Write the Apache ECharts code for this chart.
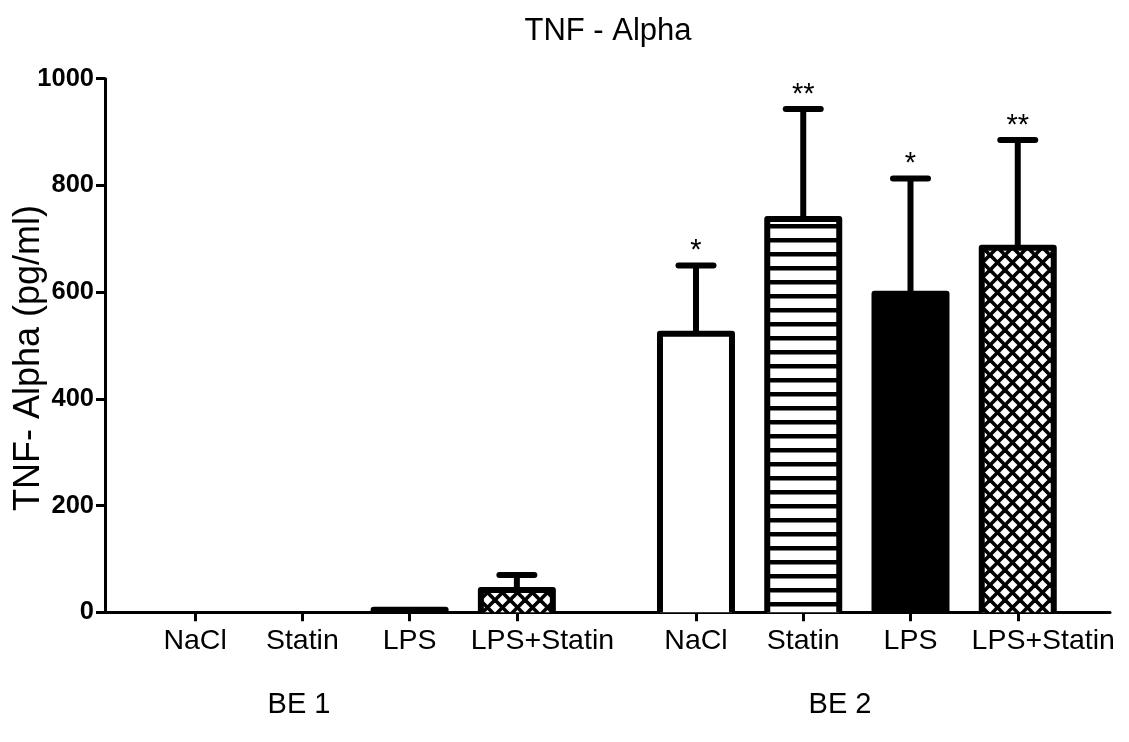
<!DOCTYPE html>
<html><head><meta charset="utf-8">
<script src="https://cdn.jsdelivr.net/npm/echarts@6/dist/echarts.min.js"></script>
<style>html,body{margin:0;padding:0;background:#fff}#c{width:1129px;height:742px}</style>
</head><body><div id="c"></div>
<script>
// ---------- data ----------
const chartTitle = 'TNF - Alpha';
const yTitle = 'TNF- Alpha (pg/ml)';
const categories = ['NaCl', 'Statin', 'LPS', 'LPS+Statin'];
const groupNames = ['BE 1', 'BE 2'];
const be1Means = [0, 0, 5, 42];
const be1Errors = [0, 0, 0, 28];
const be1Stars = ['', '', '', ''];
const be2Means = [522, 737, 597, 683];
const be2Errors = [128, 206, 216, 202];
const be2Stars = ['*', '**', '*', '**'];
const yTicks = [0, 200, 400, 600, 800, 1000];

// ---------- layout ----------
const FONT = 'Liberation Sans, Arial, sans-serif';
const GROUP_STRIDE = 4.67;
const BAR_W = 72, BORDER = 6, CAP_HALF = 17.5, ERR_W = 6;
const groupsMeans = [be1Means, be2Means];
const groupsErrors = [be1Errors, be2Errors];
const groupsStars = [be1Stars, be2Stars];

function makeStripes() {
  const c = document.createElement('canvas'); c.width = 14; c.height = 14;
  const g = c.getContext('2d');
  g.fillStyle = '#fff'; g.fillRect(0, 0, 14, 14);
  g.fillStyle = '#000'; g.fillRect(0, 0, 14, 4.5);
  return c;
}
function makeHatch() {
  const p = 15; const c = document.createElement('canvas'); c.width = p; c.height = p;
  const g = c.getContext('2d');
  g.fillStyle = '#fff'; g.fillRect(0, 0, p, p);
  g.strokeStyle = '#000'; g.lineWidth = 3.6;
  for (let dx = -1; dx <= 1; dx++) for (let dy = -1; dy <= 1; dy++) {
    const ox = dx * p, oy = dy * p;
    g.beginPath(); g.moveTo(ox, oy); g.lineTo(ox + p, oy + p); g.stroke();
    g.beginPath(); g.moveTo(ox, oy + p); g.lineTo(ox + p, oy); g.stroke();
  }
  return c;
}
const fills = ['#fff', { image: makeStripes(), repeat: 'repeat' }, '#000', { image: makeHatch(), repeat: 'repeat' }];

const positions = [];
const tickLabels = [];
const data = [];
groupsMeans.forEach((means, gi) => {
  means.forEach((m, ci) => {
    const x = gi * GROUP_STRIDE + ci;
    positions.push(x);
    tickLabels.push(categories[ci]);
    data.push([x, m, groupsErrors[gi][ci], ci, gi]);
  });
});

function labelFor(v) {
  let best = 0, bd = 1e9;
  positions.forEach((p, i) => { const d = Math.abs(p - v); if (d < bd) { bd = d; best = i; } });
  const t = tickLabels[best];
  return t === 'LPS+Statin' ? '{o|' + t + '}' : t;
}

const XFS = 28.5;
const chart = echarts.init(document.getElementById('c'), null, { renderer: 'canvas' });
const option = {
  backgroundColor: '#fff',
  animation: false,
  grid: { left: 105, right: 19, top: 78.7, bottom: 129.7, containLabel: false },
  xAxis: {
    type: 'value', min: -0.84, max: 8.53,
    axisLine: { show: true, onZero: false, lineStyle: { color: '#000', width: 3 } },
    axisTick: { show: true, customValues: positions, length: 9, lineStyle: { color: '#000', width: 3 } },
    axisLabel: {
      customValues: positions, formatter: labelFor, margin: 14,
      color: '#000', fontSize: XFS, fontFamily: FONT,
      rich: { o: { padding: [0, 0, 0, 51], fontSize: XFS, fontFamily: FONT, color: '#000' } }
    },
    splitLine: { show: false }
  },
  yAxis: {
    type: 'value', min: yTicks[0], max: yTicks[yTicks.length - 1], interval: yTicks[1] - yTicks[0],
    axisLine: { show: true, onZero: false, lineStyle: { color: '#000', width: 3 } },
    axisTick: { show: true, length: 9, lineStyle: { color: '#000', width: 3 } },
    axisLabel: { color: '#000', fontSize: 25.5, fontWeight: 'bold', fontFamily: FONT, margin: 11,
      formatter: function (v) { return String(v); } },
    splitLine: { show: false }
  },
  series: [{
    type: 'custom',
    data: data,
    clip: false,
    renderItem: function (params, api) {
      const x = api.value(0), v = api.value(1), e = api.value(2);
      const ci = api.value(3), gi = api.value(4);
      if (!(v > 0)) return { type: 'group', children: [] };
      const base = api.coord([x, 0]);
      const top = api.coord([x, v]);
      const cx = base[0];
      const l = cx - BAR_W / 2, r = cx + BAR_W / 2;
      const children = [
        { type: 'rect', shape: { x: l, y: top[1], width: BAR_W, height: base[1] - top[1] }, style: { fill: fills[ci] } },
        { type: 'polyline', shape: { points: [[l, base[1]], [l, top[1]], [r, top[1]], [r, base[1]]] },
          style: { stroke: '#000', lineWidth: BORDER, fill: null, lineJoin: 'round' } }
      ];
      if (e > 0) {
        const cap = api.coord([x, v + e]);
        children.push({ type: 'line', shape: { x1: cx, y1: top[1], x2: cx, y2: cap[1] }, style: { stroke: '#000', lineWidth: ERR_W } });
        children.push({ type: 'line', shape: { x1: cx - CAP_HALF, y1: cap[1], x2: cx + CAP_HALF, y2: cap[1] }, style: { stroke: '#000', lineWidth: ERR_W, lineCap: 'round' } });
        const s = groupsStars[gi][ci];
        if (s) children.push({ type: 'text', style: { text: s, x: cx, y: cap[1] - 14, align: 'center', verticalAlign: 'middle', fill: '#000', font: '29px ' + FONT } });
      }
      return { type: 'group', children: children };
    }
  }],
  graphic: [
    { type: 'text', x: 608, y: 31, style: { text: chartTitle, fill: '#000', font: '31px ' + FONT, align: 'center', verticalAlign: 'middle' } },
    { type: 'text', x: 29, y: 358, rotation: Math.PI / 2, style: { text: yTitle, fill: '#000', font: '36px ' + FONT, align: 'center', verticalAlign: 'middle' } },
    { type: 'text', x: 299, y: 705, style: { text: groupNames[0], fill: '#000', font: '29px ' + FONT, align: 'center', verticalAlign: 'middle' } },
    { type: 'text', x: 840, y: 705, style: { text: groupNames[1], fill: '#000', font: '29px ' + FONT, align: 'center', verticalAlign: 'middle' } }
  ]
};
chart.setOption(option);
</script>
</body></html>
